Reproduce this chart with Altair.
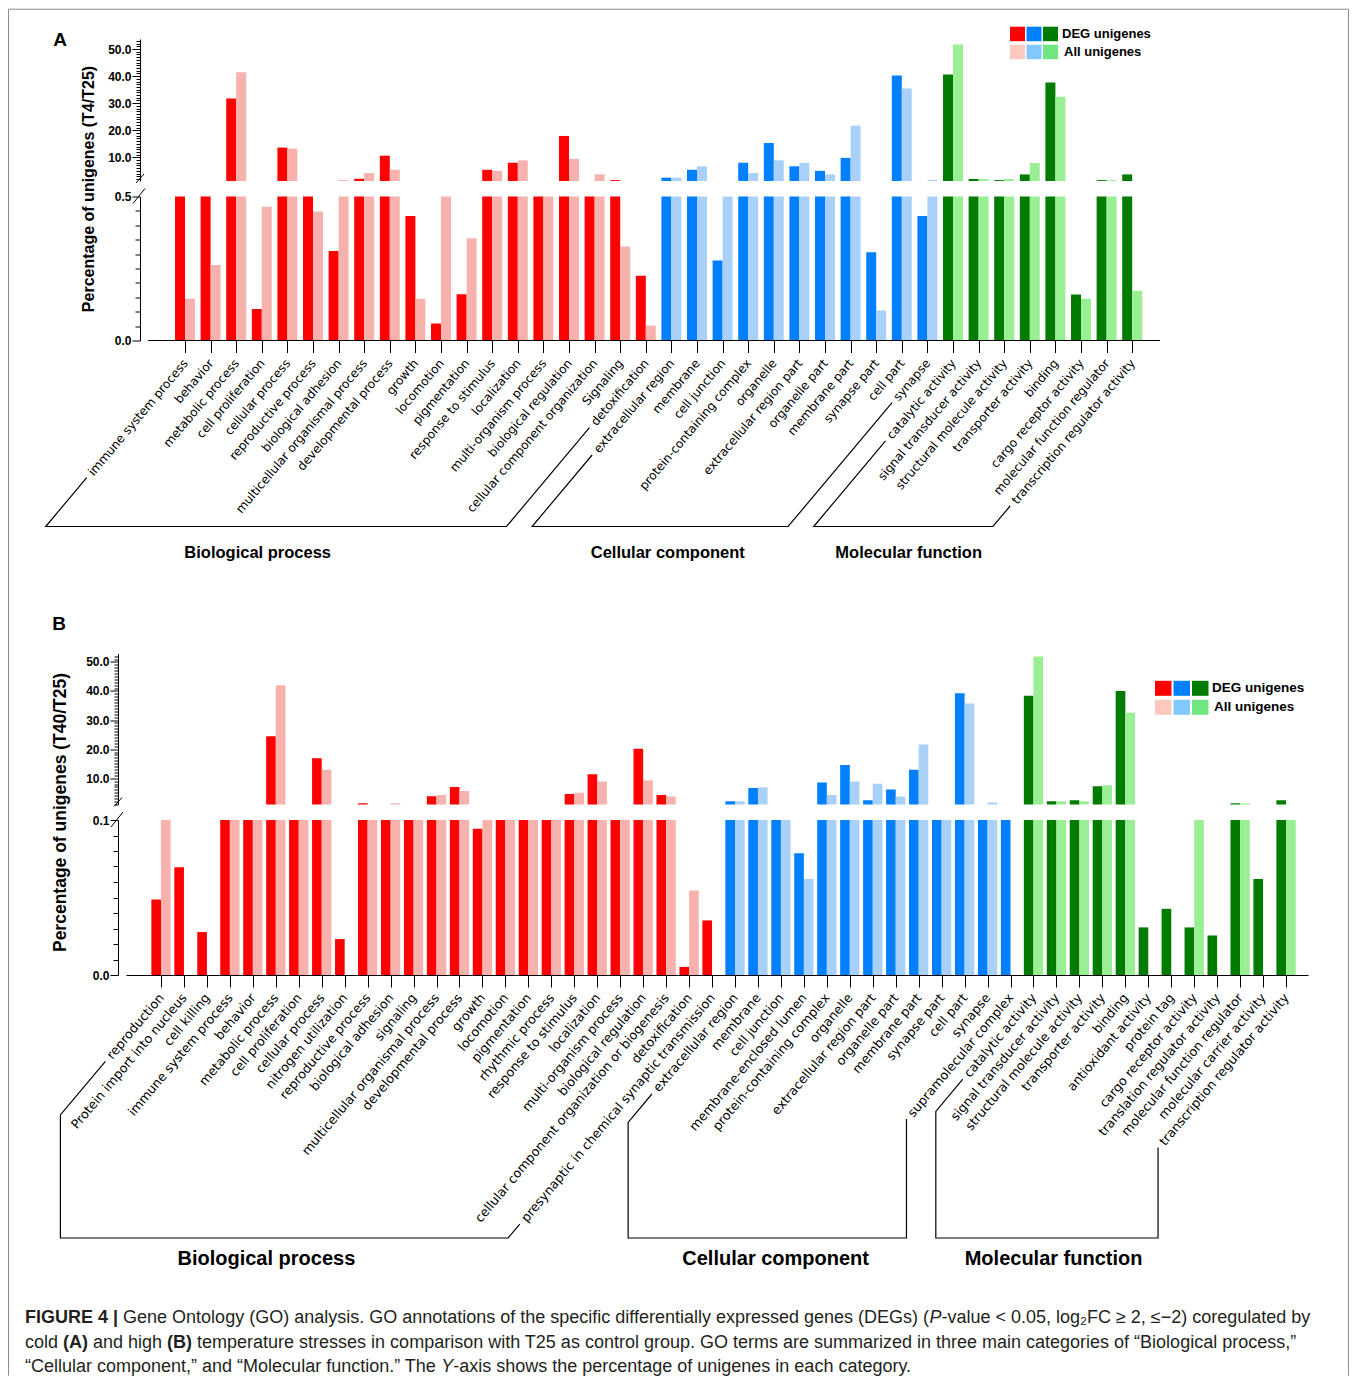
import json
import math
import altair as alt
import pandas as pd

# ---------------- Panel A (T4/T25) ----------------
A_BP_TERMS = ["immune system process", "behavior", "metabolic process", "cell proliferation",
              "cellular process", "reproductive process", "biological adhesion",
              "multicellular organismal process", "developmental process", "growth", "locomotion",
              "pigmentation", "response to stimulus", "localization", "multi-organism process",
              "biological regulation", "cellular component organization", "Signaling", "detoxification"]
A_BP_DEG = [0.9, 0.9, 31.7, 0.109, 13.6, 0.9, 0.311, 2.1, 10.6, 0.432, 0.059, 0.161, 5.4, 8.0, 0.9,
            17.9, 0.9, 1.6, 0.225]
A_BP_ALL = [0.145, 0.262, 41.4, 0.464, 13.2, 0.448, 1.6, 4.2, 5.4, 0.145, 0.9, 0.355, 5.0, 8.9, 0.9,
            9.4, 3.7, 0.326, 0.052]

A_CC_TERMS = ["extracellular region", "membrane", "cell junction", "protein-containing complex",
              "organelle", "extracellular region part", "organelle part", "membrane part",
              "synapse part", "cell part", "synapse"]
A_CC_DEG = [2.5, 5.4, 0.278, 8.0, 15.3, 6.7, 5.0, 9.8, 0.306, 40.2, 0.432]
A_CC_ALL = [2.5, 6.7, 0.9, 4.2, 8.9, 7.9, 3.7, 21.7, 0.104, 35.4, 1.6]

A_MF_TERMS = ["catalytic activity", "signal transducer activity", "structural molecule activity",
              "transporter activity", "binding", "cargo receptor activity",
              "molecular function regulator", "transcription regulator activity"]
A_MF_DEG = [40.6, 2.0, 1.6, 3.7, 37.6, 0.16, 1.6, 3.7]
A_MF_ALL = [51.7, 2.0, 2.0, 7.9, 32.4, 0.145, 1.6, 0.173]

# ---------------- Panel B (T40/T25) ----------------
B_BP_TERMS = ["reproduction", "Protein import into nucleus", "cell killing", "immune system process",
              "behavior", "metabolic process", "cell proliferation", "cellular process",
              "nitrogen utilization", "reproductive process", "biological adhesion", "signaling",
              "multicellular organismal process", "developmental process", "growth", "locomotion",
              "pigmentation", "rhythmic process", "response to stimulus", "localization",
              "multi-organism process", "biological regulation",
              "cellular component organization or biogenesis", "detoxification",
              "presynaptic in chemical synaptic transmission"]
B_BP_DEG = [0.0487, 0.0695, 0.0277, 0.5, 0.5, 24.4, 0.5, 16.9, 0.0232, 1.4, 0.5, 0.5, 3.8, 7.0,
            0.0944, 0.5, 0.5, 0.5, 4.6, 11.4, 0.5, 20.1, 4.2, 0.0052, 0.0352]
B_BP_ALL = [0.5, 0, 0, 0.5, 0.5, 42.0, 0.5, 12.9, 0, 0.5, 1.4, 0.5, 4.2, 5.6, 0.5, 0.5, 0.5, 0.5,
            5.0, 8.9, 0.5, 9.3, 3.7, 0.0545, 0]

B_CC_TERMS = ["extracellular region", "membrane", "cell junction", "membrane-enclosed lumen",
              "protein-containing complex", "organelle", "extracellular region part",
              "organelle part", "membrane part", "synapse part", "cell part", "synapse",
              "supramolecular complex"]
B_CC_DEG = [2.1, 6.6, 0.5, 0.0785, 8.5, 14.5, 2.4, 6.1, 12.9, 0.5, 39.2, 0.5, 0.5]
B_CC_ALL = [2.1, 6.9, 0.5, 0.062, 4.2, 8.9, 8.1, 3.7, 21.6, 0.5, 35.7, 1.6, 0]

B_MF_TERMS = ["catalytic activity", "signal transducer activity", "structural molecule activity",
              "transporter activity", "binding", "antioxidant activity", "protein tag",
              "cargo receptor activity", "translation regulator activity",
              "molecular function regulator", "molecular carrier activity",
              "transcription regulator activity"]
B_MF_DEG = [38.4, 2.1, 2.4, 7.2, 40.0, 0.0307, 0.0427, 0.0307, 0.0255, 1.4, 0.062, 2.4]
B_MF_ALL = [51.9, 2.1, 2.1, 7.6, 32.5, 0, 0, 0.5, 0, 1.4, 0, 0.5]

GROUP_TITLES = {"BP": "Biological process", "CC": "Cellular component", "MF": "Molecular function"}
GROUP_TITLE_POS = {"BP": 0.46, "CC": 0.53, "MF": 0.53}
COLORS = {"BP|DEG": "#ff0000", "BP|All": "#f7b2ae", "CC|DEG": "#0080ff", "CC|All": "#a8d0f8",
          "MF|DEG": "#017c01", "MF|All": "#9aee94"}
LEGEND_DEG = ["#ff0000", "#0080ff", "#017c01"]
LEGEND_ALL = ["#ffc8be", "#80c8ff", "#70e680"]

# caption runs per line: (text, style)
CAPTION_RUNS = [
    [("FIGURE 4 | ", "bold"),
     ("Gene Ontology (GO) analysis. GO annotations of the specific differentially expressed genes (DEGs) (", "normal"),
     ("P", "italic"),
     ("-value < 0.05, log\u2082FC \u2265 2, \u2264\u22122) coregulated by", "normal")],
    [("cold ", "normal"), ("(A)", "bold"), (" and high ", "normal"), ("(B)", "bold"),
     (" temperature stresses in comparison with T25 as control group. GO terms are summarized in three main categories of \u201cBiological process,\u201d", "normal")],
    [("\u201cCellular component,\u201d and \u201cMolecular function.\u201d The ", "normal"), ("Y", "italic"),
     ("-axis shows the percentage of unigenes in each category.", "normal")],
]
CAPTION_LINE_Y = [1317, 1342, 1366]
CAPTION_X = 25
CAPTION_FS = 18

LABEL_FONT = "DejaVu Sans"
BOLD_FONT = "Liberation Sans"
X0 = 126          # page x of the left edge of every plot area
SPACING = 15.5

# approximate DejaVu Sans advance widths (em) used to locate the label ends for the brackets
DV_W = dict(a=.613, b=.635, c=.550, d=.635, e=.615, f=.352, g=.635, h=.634, i=.278, j=.278,
            k=.579, l=.278, m=.974, n=.634, o=.612, p=.635, q=.635, r=.411, s=.521, t=.392,
            u=.634, v=.592, w=.818, x=.592, y=.592, z=.525)
DV_W.update({" ": .318, "-": .361, "P": .603, "S": .635})

# Arial / Liberation Sans advance widths (1/1000 em) for placing caption runs
AR_W = dict(a=556, b=556, c=500, d=556, e=556, f=278, g=556, h=556, i=222, j=222, k=500, l=222,
            m=833, n=556, o=556, p=556, q=556, r=333, s=500, t=278, u=556, v=500, w=722, x=500,
            y=500, z=500)
AR_W.update({" ": 278, "(": 333, ")": 333, ".": 278, ",": 278, "-": 333, "<": 584, "|": 260,
             "\u2265": 549, "\u2264": 549, "\u2212": 584, "\u2082": 333, "\u201c": 333, "\u201d": 333,
             "G": 778, "O": 778, "D": 722, "E": 667, "P": 667, "C": 722, "F": 611, "T": 611,
             "Y": 667, "A": 667, "B": 667, "M": 833, "I": 278, "U": 722, "R": 722})
AR_BOLD_W = {"a": 556, "c": 556, "d": 611, "h": 611, "n": 611, "o": 611, "l": 278, "i": 278,
             "g": 611, " ": 278, "(": 333, ")": 333, "|": 280, "A": 722, "B": 722, "F": 611,
             "I": 278, "G": 778, "U": 722, "R": 722, "E": 667}


def dv_width(s, fs):
    return sum(DV_W.get(ch, 0.65) for ch in s) * fs


def ar_width(s, fs, style):
    table = AR_BOLD_W if style == "bold" else AR_W
    return sum(table.get(ch, AR_W.get(ch, 556)) for ch in s) * fs / 1000.0


CFG_A = dict(
    groups=[("BP", A_BP_TERMS, A_BP_DEG, A_BP_ALL), ("CC", A_CC_TERMS, A_CC_DEG, A_CC_ALL),
            ("MF", A_MF_TERMS, A_MF_DEG, A_MF_ALL)],
    ppu=25.6, tick0=185, xend=1160, top=38.3,
    up_h=142, up_dom=(1.26, 53.7), up_ticks=list(range(2, 54)),
    lo_h=144, lo_max=0.5, lo_step=0.05,
    yaxis_x=140, baseline_start=148, bar_w=0.39,
    ytitle="Percentage of unigenes (T4/T25)", ytitle_x=88, ytitle_size=16,
    label_size=12.1, label_angle=50,
    style="A", depth=186, gt_depth=212, gt_size=16.5, diag={},
    letter="A", letter_xy=(60, 39),
    leg_x=1010, leg_y=26, leg_w=15, leg_h=14.5, leg_dx=16.5, leg_dy=18, leg_tx=1062, leg_fs=13,
)
CFG_B = dict(
    groups=[("BP", B_BP_TERMS, B_BP_DEG, B_BP_ALL), ("CC", B_CC_TERMS, B_CC_DEG, B_CC_ALL),
            ("MF", B_MF_TERMS, B_MF_DEG, B_MF_ALL)],
    ppu=22.96, tick0=161, xend=1308, top=652.7,
    up_h=151, up_dom=(0.95, 52.9), up_ticks=list(range(1, 53)),
    lo_h=155, lo_max=0.1, lo_step=0.01,
    yaxis_x=118, baseline_start=None, bar_w=0.42,
    ytitle="Percentage of unigenes (T40/T25)", ytitle_x=60, ytitle_size=17.5,
    label_size=12.7, label_angle=50,
    style="B", depth=263, gt_depth=284, gt_size=20, diag={"BP": 70, "CC": 37, "MF": 42},
    letter="B", letter_xy=(59, 623),
    leg_x=1155, leg_y=680, leg_w=16.5, leg_h=15, leg_dx=18.5, leg_dy=19, leg_tx=1212, leg_fs=13.5,
)

TICK = 12
LABEL_PAD = 8


def one_row():
    return pd.DataFrame({"z": [0]})


def build_panel(cfg, frame=False):
    names, rows, gidx = [], [], []
    i = 0
    for g, terms, deg, al in cfg["groups"]:
        first = i
        for t, d, a in zip(terms, deg, al):
            names.append(t)
            rows.append({"idx": i, "series": "DEG", "key": g + "|DEG", "value": d})
            rows.append({"idx": i, "series": "All", "key": g + "|All", "value": a})
            i += 1
        gidx.append((g, first, i - 1))
    df = pd.DataFrame(rows)
    n = len(names)
    ppu = cfg["ppu"]
    xmin = (X0 - cfg["tick0"]) / ppu
    xmax = (cfg["xend"] - cfg["tick0"]) / ppu
    width = cfg["xend"] - X0
    xs = alt.Scale(domain=[xmin, xmax], nice=False, zero=False)
    bw = cfg["bar_w"]
    color = alt.Color("key:N", scale=alt.Scale(domain=list(COLORS), range=list(COLORS.values())),
                      legend=None)
    yoff = X0 - cfg["yaxis_x"]
    calc = dict(
        x0=f"datum.series === 'DEG' ? datum.idx - {bw} : datum.idx",
        x1=f"datum.series === 'DEG' ? datum.idx : datum.idx + {bw}",
        base="0",
    )

    # ---------- upper (broken) part ----------
    uy = alt.Scale(domain=list(cfg["up_dom"]), nice=False, zero=False)
    up_axis = alt.Axis(
        values=cfg["up_ticks"],
        labelExpr="datum.value % 10 === 0 ? format(datum.value, '.1f') : ''",
        tickSize={"condition": {"test": "datum.value % 10 === 0", "value": 8}, "value": 4},
        offset=yoff, title=None, grid=False, labelOverlap=False, labelFlush=False,
        labelPadding=1, labelFont=BOLD_FONT, labelFontWeight="bold", labelFontSize=12,
    )
    up_bars = alt.Chart(df).transform_calculate(**calc).mark_bar(clip=True).encode(
        x=alt.X("x0:Q", scale=xs, axis=None), x2="x1:Q",
        y=alt.Y("value:Q", scale=uy, axis=up_axis), y2="base:Q", color=color)
    up_layers = [up_bars]

    # break mark at the bottom of the upper axis
    ax_idx = (cfg["yaxis_x"] - cfg["tick0"]) / ppu
    upu = (cfg["up_dom"][1] - cfg["up_dom"][0]) / cfg["up_h"]
    ub = pd.DataFrame({"a": [ax_idx - 4 / ppu], "b": [ax_idx + 4 / ppu],
                       "c": [cfg["up_dom"][0] - 2 * upu], "d": [cfg["up_dom"][0] + 7 * upu]})
    up_layers.append(alt.Chart(ub).mark_rule(color="black", strokeWidth=1).encode(
        x=alt.X("a:Q", scale=xs, axis=None), x2="b:Q",
        y=alt.Y("c:Q", scale=uy, axis=up_axis), y2="d:Q"))

    # legend (decoration)
    top = cfg["top"]
    for r, cols in enumerate([LEGEND_DEG, LEGEND_ALL]):
        for c, col in enumerate(cols):
            lx = cfg["leg_x"] + c * cfg["leg_dx"] - X0
            ly = cfg["leg_y"] + r * cfg["leg_dy"] - top
            up_layers.append(alt.Chart(one_row()).mark_rect(color=col).encode(
                x=alt.value(lx), x2=alt.value(lx + cfg["leg_w"]),
                y=alt.value(ly), y2=alt.value(ly + cfg["leg_h"])))
        up_layers.append(alt.Chart(one_row()).mark_text(
            text=["DEG unigenes", "All unigenes"][r], align="left", baseline="middle",
            font=BOLD_FONT, fontWeight="bold", fontSize=cfg["leg_fs"], color="black").encode(
            x=alt.value(cfg["leg_tx"] - X0 + (2 if r else 0)),
            y=alt.value(cfg["leg_y"] + r * cfg["leg_dy"] + cfg["leg_h"] / 2 - top)))
    # panel letter
    up_layers.append(alt.Chart(one_row()).mark_text(
        text=cfg["letter"], align="center", baseline="middle", font=BOLD_FONT,
        fontWeight="bold", fontSize=19, color="black").encode(
        x=alt.value(cfg["letter_xy"][0] - X0), y=alt.value(cfg["letter_xy"][1] - top)))
    if frame:
        fl, ft, fr, fb = 8.5 - X0, 8.5 - top, 1348.5 - X0, 1375 - top
        fcol = "#8c8c8c"
        up_layers.append(alt.Chart(one_row()).mark_rule(color=fcol).encode(
            x=alt.value(fl), y=alt.value(ft), y2=alt.value(fb)))
        up_layers.append(alt.Chart(one_row()).mark_rule(color=fcol).encode(
            x=alt.value(fr), y=alt.value(ft), y2=alt.value(fb)))
        up_layers.append(alt.Chart(one_row()).mark_rule(color=fcol).encode(
            x=alt.value(fl), x2=alt.value(fr), y=alt.value(ft)))
    upper = alt.layer(*up_layers).properties(width=width, height=cfg["up_h"])

    # ---------- lower part ----------
    lo_max, step = cfg["lo_max"], cfg["lo_step"]
    ly = alt.Scale(domain=[0, lo_max], nice=False, zero=True)
    lo_vals = [round(k * step, 6) for k in range(int(round(lo_max / step)) + 1)]
    test = f"datum.value === 0 || datum.value >= {lo_max * 0.999}"
    lo_axis = alt.Axis(
        values=lo_vals, labelExpr=f"{test} ? format(datum.value, '.1f') : ''",
        tickSize={"condition": {"test": test, "value": 8}, "value": 5},
        offset=yoff, grid=False, labelOverlap=False, labelFlush=False, labelPadding=1,
        labelFont=BOLD_FONT, labelFontWeight="bold", labelFontSize=12,
        title=cfg["ytitle"], titleX=cfg["ytitle_x"] - cfg["yaxis_x"], titleY=-8,
        titleAngle=270, titleAlign="center", titleBaseline="middle",
        titleFont=BOLD_FONT, titleFontWeight="bold", titleFontSize=cfg["ytitle_size"],
    )
    x_axis = alt.Axis(
        values=list(range(n)), labelExpr=json.dumps(names) + "[datum.value]",
        labelAngle=-cfg["label_angle"], labelAlign="right", labelBaseline="middle",
        tickSize=TICK, labelPadding=LABEL_PAD, labelOverlap=False, labelLimit=0,
        labelFlush=False, labelBound=False, domain=cfg["baseline_start"] is None, grid=False,
        title=None, labelFont=LABEL_FONT, labelFontSize=cfg["label_size"], labelColor="black",
    )
    lo_bars = alt.Chart(df).transform_calculate(**calc).mark_bar(clip=True).encode(
        x=alt.X("x0:Q", scale=xs, axis=x_axis), x2="x1:Q",
        y=alt.Y("value:Q", scale=ly, axis=lo_axis), y2="base:Q", color=color)
    lo_layers = [lo_bars]
    vpp = lo_max / cfg["lo_h"]  # value per pixel
    if cfg["baseline_start"] is not None:
        bl = pd.DataFrame({"a": [(cfg["baseline_start"] - cfg["tick0"]) / ppu], "b": [xmax], "c": [0.0]})
        lo_layers.append(alt.Chart(bl).mark_rule(color="black").encode(
            x=alt.X("a:Q", scale=xs, axis=x_axis), x2="b:Q", y=alt.Y("c:Q", scale=ly, axis=lo_axis)))
    # break mark at the top of the lower axis
    lb = pd.DataFrame({"a": [ax_idx - 7 / ppu], "b": [ax_idx + 5 / ppu],
                       "c": [lo_max - 7 * vpp], "d": [lo_max + 8 * vpp]})
    lo_layers.append(alt.Chart(lb).mark_rule(color="black", strokeWidth=1).encode(
        x=alt.X("a:Q", scale=xs, axis=x_axis), x2="b:Q",
        y=alt.Y("c:Q", scale=ly, axis=lo_axis), y2="d:Q"))

    # brackets grouping the GO terms (follow the direction of the rotated labels)
    ang = math.radians(cfg["label_angle"])
    ca, sa = math.cos(ang), math.sin(ang)
    y0 = TICK + LABEL_PAD
    depth = cfg["depth"]
    seg_rows, title_rows = [], []

    def start(k):
        L = dv_width(names[k], cfg["label_size"]) + 5
        return (k * ppu - L * ca, y0 + L * sa)

    for g, f, l in gidx:
        s, e = start(f), start(l)
        if cfg["style"] == "A":
            p2 = (f * ppu - (depth - y0) * ca / sa, depth)
            p3 = (l * ppu - (depth - y0) * ca / sa, depth)
            pts = [s, p2, p3, e]
            left, right = p2[0], p3[0]
        else:
            d = min(cfg["diag"][g], (depth - s[1]) / sa)
            p2 = (s[0] - d * ca, s[1] + d * sa)
            if depth - e[1] < 20:
                q = (e[0] - (depth - e[1]) * ca / sa, depth)
            else:
                q = (e[0], depth)
            pts = [s, p2, (p2[0], depth), q, e]
            left, right = p2[0], q[0]
        for o, (px, py) in enumerate(pts):
            seg_rows.append({"seg": g, "ord": o, "bx": px / ppu, "by": -py * vpp})
        cx = left + GROUP_TITLE_POS[g] * (right - left)
        title_rows.append({"label": GROUP_TITLES[g], "tx": cx / ppu, "ty": -cfg["gt_depth"] * vpp})
    lo_layers.append(alt.Chart(pd.DataFrame(seg_rows)).mark_line(color="black", strokeWidth=1.2).encode(
        x=alt.X("bx:Q", scale=xs, axis=x_axis), y=alt.Y("by:Q", scale=ly, axis=lo_axis),
        detail="seg:N", order=alt.Order("ord:Q")))
    lo_layers.append(alt.Chart(pd.DataFrame(title_rows)).mark_text(
        font=BOLD_FONT, fontWeight="bold", fontSize=cfg["gt_size"], color="black",
        baseline="middle").encode(
        x=alt.X("tx:Q", scale=xs, axis=x_axis), y=alt.Y("ty:Q", scale=ly, axis=lo_axis),
        text="label:N"))
    lower = alt.layer(*lo_layers).properties(width=width, height=cfg["lo_h"])
    return upper, lower


def spacer(h):
    return alt.Chart(one_row()).mark_point(opacity=0).encode(
        x=alt.X("z:Q", axis=None), y=alt.Y("z:Q", axis=None)).properties(width=10, height=h)


A_up, A_low = build_panel(CFG_A, frame=True)
B_up, B_low = build_panel(CFG_B)

a_low_bottom = CFG_A["top"] + CFG_A["up_h"] + SPACING + CFG_A["lo_h"]
sp1 = CFG_B["top"] - a_low_bottom - 2 * SPACING
b_low_bottom = CFG_B["top"] + CFG_B["up_h"] + SPACING + CFG_B["lo_h"]
CAP_TOP = 1290
sp2 = CAP_TOP - b_low_bottom - 2 * SPACING

# caption runs laid out with Arial metrics
cap_rows = []
for li, runs in enumerate(CAPTION_RUNS):
    x = CAPTION_X
    for text, style in runs:
        lead = len(text) - len(text.lstrip(" "))
        x_start = x + ar_width(" " * lead, CAPTION_FS, style)
        cap_rows.append({"px": x_start - X0, "py": CAPTION_LINE_Y[li] - CAP_TOP,
                         "text": text.strip(" "), "style": style})
        x += ar_width(text, CAPTION_FS, style)
cap_df = pd.DataFrame(cap_rows)
cap_layers = []
for style in ["normal", "bold", "italic"]:
    cap_layers.append(alt.Chart(cap_df).transform_filter(f"datum.style === '{style}'").mark_text(
        align="left", baseline="middle", font="Liberation Sans", fontSize=CAPTION_FS,
        fontWeight="bold" if style == "bold" else "normal",
        fontStyle="italic" if style == "italic" else "normal", color="#231f20").encode(
        x=alt.X("px:Q", scale=None), y=alt.Y("py:Q", scale=None), text="text:N"))
caption = alt.layer(*cap_layers).properties(width=1200, height=80)

chart = alt.vconcat(A_up, A_low, spacer(sp1), B_up, B_low, spacer(sp2), caption,
                    spacing=SPACING, bounds="flush").properties(padding=0)
chart = chart.configure_view(stroke=None).configure_axis(
    domainColor="black", tickColor="black", labelColor="black", titleColor="black",
    domainWidth=1, tickWidth=1)

chart.save("out.html", embed_options={"renderer": "svg", "actions": False})
